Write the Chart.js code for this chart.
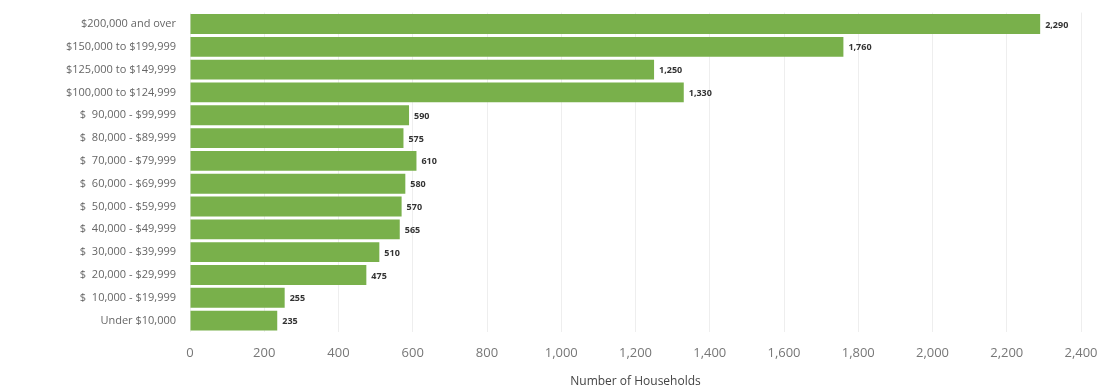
<!DOCTYPE html>
<html>
<head>
    <title>Household Income</title>
    <script src="https://cdn.jsdelivr.net/npm/chart.js"></script>
    <style>
        body { margin: 0; background: #fff; }
        #chart_wrap { width: 1118px; height: 390px; }
    </style>
</head>
<body>
    <div id="chart_wrap">
        <canvas id="income_chart" width="1118" height="390"></canvas>
    </div>
    <script>
        const income_brackets = [
            '$200,000 and over',
            '$150,000 to $199,999',
            '$125,000 to $149,999',
            '$100,000 to $124,999',
            '$  90,000 - $99,999',
            '$  80,000 - $89,999',
            '$  70,000 - $79,999',
            '$  60,000 - $69,999',
            '$  50,000 - $59,999',
            '$  40,000 - $49,999',
            '$  30,000 - $39,999',
            '$  20,000 - $29,999',
            '$  10,000 - $19,999',
            'Under $10,000'
        ];
        const households = [2290, 1760, 1250, 1330, 590, 575, 610, 580, 570, 565, 510, 475, 255, 235];
        const x_max = 2400;
        const x_step = 200;
        const x_title = 'Number of Households';

        // draws the value next to the end of each bar
        const valueLabels = {
            id: 'valueLabels',
            afterDatasetsDraw(chart) {
                const ctx = chart.ctx;
                const meta = chart.getDatasetMeta(0);
                ctx.save();
                ctx.font = 'bold 9px "Open Sans", sans-serif';
                ctx.fillStyle = '#333';
                ctx.textAlign = 'left';
                ctx.textBaseline = 'middle';
                meta.data.forEach(function (bar, i) {
                    ctx.fillText(households[i].toLocaleString('en-US'), bar.x + 5, bar.y + 1);
                });
                ctx.restore();
            }
        };

        const ctx = document.getElementById('income_chart');
        new Chart(ctx, {
            type: 'bar',
            data: {
                labels: income_brackets,
                datasets: [{
                    data: households,
                    backgroundColor: '#79b04b',
                    borderWidth: 0,
                    barPercentage: 0.87,
                    categoryPercentage: 1.0
                }]
            },
            options: {
                indexAxis: 'y',
                responsive: false,
                animation: false,
                layout: { padding: { left: 0, right: 37, top: 9, bottom: 1 } },
                plugins: {
                    legend: { display: false },
                    tooltip: { enabled: false }
                },
                scales: {
                    x: {
                        min: 0,
                        max: x_max,
                        ticks: {
                            stepSize: x_step,
                            color: '#777',
                            font: { family: '"Open Sans", sans-serif', size: 13 },
                            padding: 13,
                            callback: function (v) { return v.toLocaleString('en-US'); }
                        },
                        grid: { color: '#eeeeee', drawTicks: false },
                        border: { display: false },
                        title: {
                            display: true,
                            text: x_title,
                            color: '#444',
                            font: { family: '"Open Sans", sans-serif', size: 12 },
                            padding: { top: 4, bottom: 0 }
                        },
                        afterFit: function (scale) { scale.height = 57; }
                    },
                    y: {
                        ticks: {
                            color: '#666',
                            font: { family: '"Open Sans", sans-serif', size: 11 },
                            padding: 6
                        },
                        grid: { display: false },
                        border: { display: false },
                        afterFit: function (scale) { scale.width = 190; }
                    }
                }
            },
            plugins: [valueLabels]
        });
    </script>
</body>
</html>
